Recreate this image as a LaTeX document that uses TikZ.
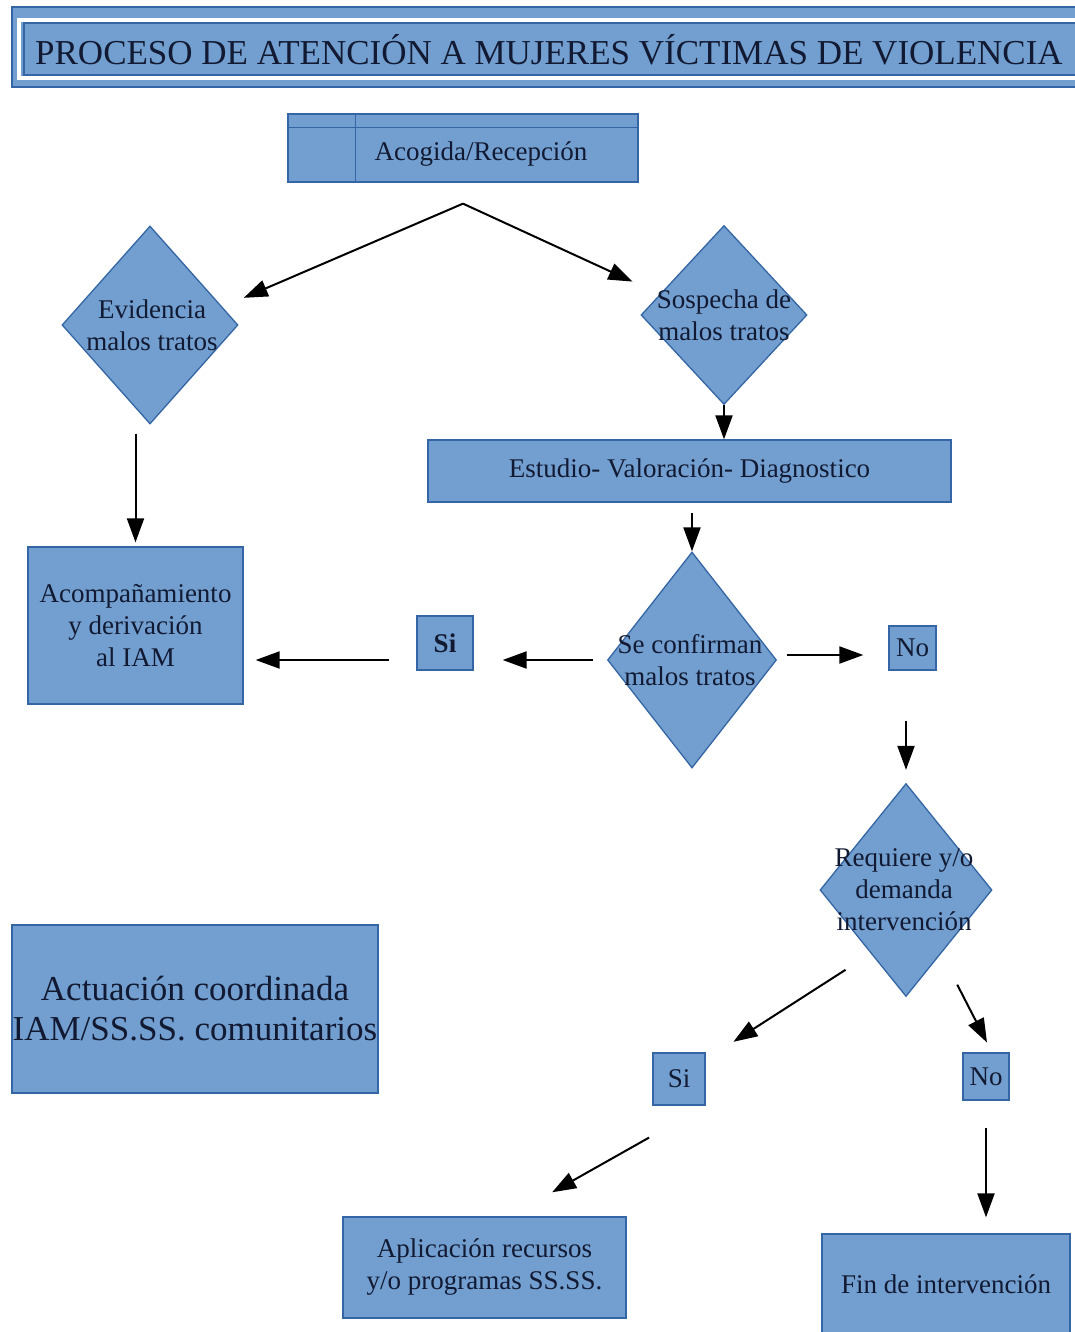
\documentclass[tikz,border=0pt]{standalone}
\usepackage{fontspec}
\setmainfont{Liberation Serif}
\usepackage{tikz}
\usetikzlibrary{shapes.geometric,arrows.meta,calc}
\definecolor{boxblue}{HTML}{729FCF}
\definecolor{edgeblue}{HTML}{3465A4}
\definecolor{ink}{HTML}{121A33}
\newcommand{\normsize}{\fontsize{27}{32}\selectfont}
\newcommand{\bigsize}{\fontsize{35}{40}\selectfont}
\tikzset{
	flow arrow/.style={-{Triangle[length=24pt,width=17pt]}, line width=2pt}
}
\tikzstyle{blue box}=[draw=edgeblue, fill=boxblue, line width=1.3pt, text=ink, font=\normsize, align=center, inner sep=0pt]
\tikzstyle{decision}=[blue box, diamond]
\tikzstyle{mid label}=[text=ink, font=\normsize, align=center]

\begin{document}
\begin{tikzpicture}[x=1pt, y=-1pt]
	\useasboundingbox (0,0) rectangle (1075,1332);
	\fill[white] (0,0) rectangle (1075,1332);
	\draw[draw=edgeblue, fill=boxblue, line width=1.5pt] (12,7) rectangle (1090,87);
	\draw[white, line width=3.5pt] (19,20) rectangle (1090,78);
	\draw[draw=edgeblue, fill=boxblue, line width=1.5pt] (24,23) rectangle (1090,75);
	\node[text=ink, font=\bigsize] (title) at (549,50) {PROCESO DE ATENCIÓN A MUJERES VÍCTIMAS DE VIOLENCIA};
	\node[blue box, minimum width=350pt, minimum height=68pt, label={[mid label, xshift=18pt, yshift=-6pt]center:Acogida/Recepción}] (acogida) at (463,148) {};
	\draw[edgeblue, line width=1.3pt] ([xshift=68pt]acogida.north west) -- ([xshift=68pt]acogida.south west);
	\draw[edgeblue, line width=1.3pt] ([yshift=-14pt]acogida.north west) -- ([yshift=-14pt]acogida.north east);
	\node[decision, minimum width=176pt, minimum height=198pt, label={[mid label, xshift=2pt]center:Evidencia\\malos tratos}] (evid) at (150,325) {};
	\node[decision, minimum width=166pt, minimum height=179pt, label={[mid label]center:Sospecha de\\malos tratos}] (sosp) at (724,315) {};
	\node[blue box, minimum width=523pt, minimum height=62pt] (estudio) at (689.5,471) {Estudio- Valoración- Diagnostico};
	\node[blue box, minimum width=215pt, minimum height=157pt] (acomp) at (135.5,625.5) {Acompañamiento\\y derivación\\al IAM};
	\node[decision, minimum width=169pt, minimum height=216pt, label={[mid label, xshift=-2pt]center:Se confirman\\malos tratos}] (confirm) at (692,660) {};
	\node[blue box, minimum width=56pt, minimum height=54pt, font=\normsize\bfseries] (si1) at (445,643) {Si};
	\node[blue box, minimum width=47pt, minimum height=44pt] (no1) at (912.5,648) {No};
	\node[decision, minimum width=172pt, minimum height=213pt, label={[mid label, xshift=-2pt]center:Requiere y/o\\demanda\\intervención}] (req) at (906,890) {};
	\node[blue box, minimum width=366pt, minimum height=168pt, font=\bigsize] (actua) at (195,1009) {Actuación coordinada\\IAM/SS.SS. comunitarios};
	\node[blue box, minimum width=52pt, minimum height=52pt] (si2) at (679,1079) {Si};
	\node[blue box, minimum width=46pt, minimum height=47pt] (no2) at (986,1076.5) {No};
	\node[blue box, minimum width=283pt, minimum height=101pt] (aplic) at (484.5,1267.5) {Aplicación recursos\\y/o programas SS.SS.};
	\node[blue box, minimum width=248pt, minimum height=100pt] (fin) at (946,1284) {Fin de intervención};
	\coordinate (split) at ([yshift=-21pt]acogida.south);
	\coordinate (noin) at ([yshift=5pt]confirm.east);
	\draw[flow arrow, shorten >=23pt] (split) -- (evid.14);
	\draw[flow arrow, shorten >=30pt] (split) -- (sosp.162);
	\draw[flow arrow, shorten <=9pt, shorten >=4pt] (evid.south -| acomp.north) -- (acomp.north);
	\draw[flow arrow] (sosp.south) -- (sosp.south |- estudio.north);
	\draw[flow arrow, shorten <=10pt] (estudio.south -| confirm.north) -- (confirm.north);
	\draw[flow arrow, shorten <=14pt, shorten >=29pt] (confirm.west) -- (confirm.west -| si1.east);
	\draw[flow arrow, shorten <=27pt, shorten >=12pt] (si1.west |- confirm) -- (acomp.east |- confirm);
	\draw[flow arrow, shorten <=10pt, shorten >=25pt] (noin) -- (noin -| no1.west);
	\draw[flow arrow, shorten <=50pt, shorten >=13pt] (no1.south -| req.north) -- (req.north);
	\draw[flow arrow, shorten <=30pt, shorten >=33pt] (req.241) -- (si2.36);
	\draw[flow arrow, shorten <=35pt, shorten >=11pt] (req.299) -- (no2.76);
	\draw[flow arrow, shorten <=65pt, shorten >=49pt] (si2.south east) -- (aplic.64);
	\draw[flow arrow, shorten <=27pt, shorten >=16pt] (no2.south) -- (no2.south |- fin.north);
\end{tikzpicture}
\end{document}
